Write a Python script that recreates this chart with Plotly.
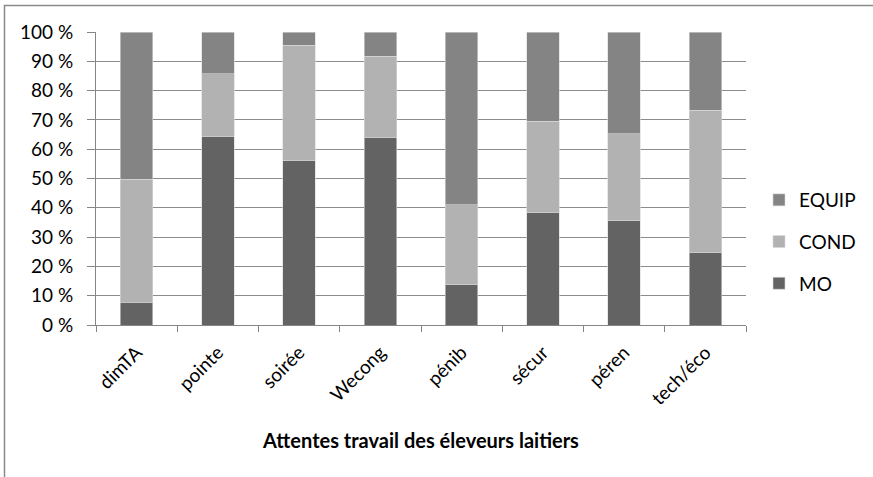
import plotly.graph_objects as go

categories = ["dimTA", "pointe", "soirée", "Wecong", "pénib", "sécur", "péren", "tech/éco"]
mo = [7.7, 64.3, 56.0, 63.9, 13.7, 38.3, 35.5, 24.6]
cond = [42.1, 21.5, 39.4, 27.9, 27.3, 31.3, 29.7, 48.7]
equip = [50.2, 14.2, 4.6, 8.2, 59.0, 30.4, 34.8, 26.7]
y_ticks = [0, 10, 20, 30, 40, 50, 60, 70, 80, 90, 100]
y_tick_labels = [f"{v} %" for v in y_ticks]

FONT = "Lato, 'Open Sans', sans-serif"
W, H = 873, 477
L, R, T, B = 96, 746, 32, 325

fig = go.Figure()
series = [("MO", mo, "#636363", 3), ("COND", cond, "#b2b2b2", 2), ("EQUIP", equip, "#848484", 1)]
for name, vals, col, rank in series:
    fig.add_trace(go.Bar(
        x=categories, y=vals, name=name, legendgroup=name, legendrank=rank,
        marker=dict(color=col, line=dict(color="#d8d8d8", width=0.6)),
        width=0.4,
    ))

def px_x(p):
    return (p - L) / (R - L)

def px_y(p):
    return (B - p) / (B - T)

fig.update_layout(
    width=W, height=H,
    barmode="stack",
    margin=dict(l=L, r=W - R, t=T, b=H - B, autoexpand=False),
    paper_bgcolor="white", plot_bgcolor="white",
    font=dict(family=FONT, size=19, color="#000000"),
    showlegend=True,
    legend=dict(
        x=px_x(759), xanchor="left", y=px_y(242), yanchor="middle",
        traceorder="grouped", tracegroupgap=14,
        font=dict(size=19), itemwidth=30,
        bgcolor="rgba(0,0,0,0)",
    ),
    xaxis=dict(
        type="category", tickangle=-45,
        showline=True, linecolor="#868686", linewidth=1,
        ticks="outside", tickson="boundaries", ticklen=6, tickcolor="#868686",
        showgrid=False, ticklabelstandoff=8,
        tickfont=dict(size=19),
        title=dict(text="<b>Attentes travail des éleveurs laitiers</b>",
                   font=dict(size=20), standoff=25),
    ),
    yaxis=dict(
        range=[0, 100], tickvals=y_ticks, ticktext=y_tick_labels,
        showgrid=True, gridcolor="#8c8c8c", gridwidth=1,
        showline=True, linecolor="#868686", linewidth=1,
        ticks="outside", ticklen=8, tickcolor="#868686", ticklabelstandoff=10,
        tickfont=dict(size=19), zeroline=False,
    ),
    shapes=[dict(
        type="rect", xref="paper", yref="paper",
        x0=px_x(4.5), x1=px_x(900), y0=px_y(520), y1=px_y(5.5),
        line=dict(color="#8a8a8a", width=1.5), fillcolor="rgba(0,0,0,0)", layer="below",
    )],
)

fig.write_html("out.html", config={"displayModeBar": False},
               post_script="document.body.style.margin='0';document.body.style.overflow='hidden';")
